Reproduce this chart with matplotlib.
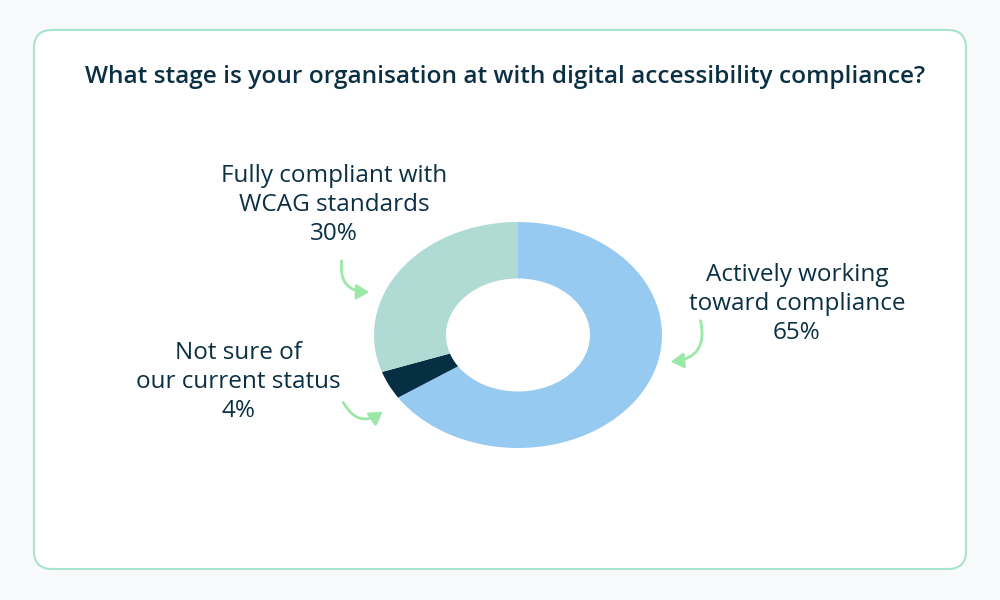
import matplotlib.pyplot as plt
from matplotlib.patches import FancyBboxPatch, FancyArrowPatch

plt.rcParams['font.family'] = ['Open Sans', 'DejaVu Sans']

# Data
labels = ['Actively working\ntoward compliance', 'Not sure of\nour current status', 'Fully compliant with\nWCAG standards']
values = [65, 4, 30]
colors = ['#97caf0', '#062f43', '#afdbd4']
title = 'What stage is your organisation at with digital accessibility compliance?'
text_color = '#0b3044'
arrow_color = '#9be8a8'

fig = plt.figure(figsize=(10, 6), dpi=100)
fig.patch.set_facecolor('#f8f9fa')

# overlay axes in pixel coordinates
bg = fig.add_axes([0, 0, 1, 1])
bg.set_xlim(0, 1000)
bg.set_ylim(600, 0)
bg.axis('off')
bg.add_patch(FancyBboxPatch((34, 30), 932, 539, boxstyle='round,pad=0,rounding_size=18',
                            facecolor='white', edgecolor='#a9e3cf', linewidth=1.5))
bg.text(505, 77, title, ha='center', va='center', fontsize=17.6, fontweight='semibold', color=text_color)

# donut
ax = fig.add_axes([374 / 1000, (600 - 448) / 600, 288 / 1000, 226 / 600])
ax.pie(values, colors=colors, startangle=90, counterclock=False,
       wedgeprops=dict(width=0.5, edgecolor='none'))
ax.set_aspect('auto')
ax.set_xlim(-1, 1)
ax.set_ylim(-1, 1)

# labels with percents
label_pos = [(797, 304), (238, 382), (334, 205)]
for lab, v, (x, y) in zip(labels, values, label_pos):
    bg.text(x, y, f'{lab}\n{v}%', ha='center', va='center', fontsize=17.5,
            color=text_color, linespacing=1.3)

# curved arrows
arrows = [((700, 318), (668, 362), -0.6),
          ((342, 258), (372, 292), 0.6),
          ((342, 400), (385, 410), 0.6)]
for (x0, y0), (x1, y1), rad in arrows:
    bg.add_patch(FancyArrowPatch((x0, y0), (x1, y1), connectionstyle=f'arc3,rad={rad}',
                                 arrowstyle='-|>,head_length=5,head_width=3', color=arrow_color,
                                 linewidth=2, mutation_scale=1.5))

fig.savefig('out.png', dpi=100, facecolor=fig.get_facecolor())
